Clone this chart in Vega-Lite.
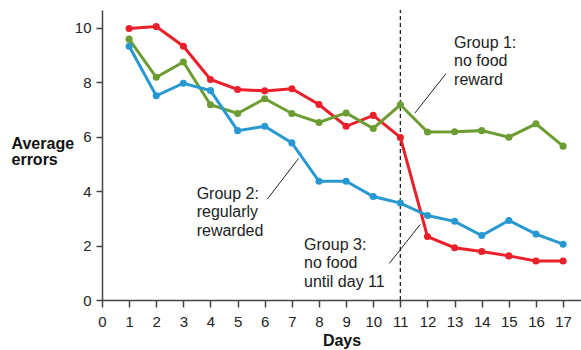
{
  "$schema": "https://vega.github.io/schema/vega-lite/v6.json",
  "width": 479,
  "height": 290,
  "autosize": {"type": "none"},
  "padding": {"left": 102, "top": 10, "right": 0, "bottom": 50},
  "background": "white",
  "config": {"view": {"stroke": null}, "font": "Liberation Sans"},
  "datasets": {
    "series": [
      {"day": 1, "group": "Group 3", "errors": 9.97},
      {"day": 2, "group": "Group 3", "errors": 10.04},
      {"day": 3, "group": "Group 3", "errors": 9.32},
      {"day": 4, "group": "Group 3", "errors": 8.1},
      {"day": 5, "group": "Group 3", "errors": 7.73},
      {"day": 6, "group": "Group 3", "errors": 7.68},
      {"day": 7, "group": "Group 3", "errors": 7.76},
      {"day": 8, "group": "Group 3", "errors": 7.18},
      {"day": 9, "group": "Group 3", "errors": 6.38},
      {"day": 10, "group": "Group 3", "errors": 6.78},
      {"day": 11, "group": "Group 3", "errors": 5.97},
      {"day": 12, "group": "Group 3", "errors": 2.33},
      {"day": 13, "group": "Group 3", "errors": 1.92},
      {"day": 14, "group": "Group 3", "errors": 1.78},
      {"day": 15, "group": "Group 3", "errors": 1.62},
      {"day": 16, "group": "Group 3", "errors": 1.43},
      {"day": 17, "group": "Group 3", "errors": 1.43},
      {"day": 1, "group": "Group 1", "errors": 9.58},
      {"day": 2, "group": "Group 1", "errors": 8.18},
      {"day": 3, "group": "Group 1", "errors": 8.74},
      {"day": 4, "group": "Group 1", "errors": 7.17},
      {"day": 5, "group": "Group 1", "errors": 6.85},
      {"day": 6, "group": "Group 1", "errors": 7.39},
      {"day": 7, "group": "Group 1", "errors": 6.85},
      {"day": 8, "group": "Group 1", "errors": 6.52},
      {"day": 9, "group": "Group 1", "errors": 6.87},
      {"day": 10, "group": "Group 1", "errors": 6.3},
      {"day": 11, "group": "Group 1", "errors": 7.17},
      {"day": 12, "group": "Group 1", "errors": 6.17},
      {"day": 13, "group": "Group 1", "errors": 6.18},
      {"day": 14, "group": "Group 1", "errors": 6.22},
      {"day": 15, "group": "Group 1", "errors": 5.98},
      {"day": 16, "group": "Group 1", "errors": 6.47},
      {"day": 17, "group": "Group 1", "errors": 5.65},
      {"day": 1, "group": "Group 2", "errors": 9.32},
      {"day": 2, "group": "Group 2", "errors": 7.5},
      {"day": 3, "group": "Group 2", "errors": 7.96},
      {"day": 4, "group": "Group 2", "errors": 7.69},
      {"day": 5, "group": "Group 2", "errors": 6.22},
      {"day": 6, "group": "Group 2", "errors": 6.38},
      {"day": 7, "group": "Group 2", "errors": 5.77},
      {"day": 8, "group": "Group 2", "errors": 4.36},
      {"day": 9, "group": "Group 2", "errors": 4.36},
      {"day": 10, "group": "Group 2", "errors": 3.8},
      {"day": 11, "group": "Group 2", "errors": 3.56},
      {"day": 12, "group": "Group 2", "errors": 3.1},
      {"day": 13, "group": "Group 2", "errors": 2.89},
      {"day": 14, "group": "Group 2", "errors": 2.37},
      {"day": 15, "group": "Group 2", "errors": 2.92},
      {"day": 16, "group": "Group 2", "errors": 2.42},
      {"day": 17, "group": "Group 2", "errors": 2.05}
    ],
    "divider": [{"day": 11, "errors": 0, "errors2": 10.65}],
    "connectors": [
      {"day": 11.54, "errors": 6.87, "day2": 12.68, "errors2": 8.31},
      {"day": 6.1, "errors": 3.71, "day2": 7.24, "errors2": 5.19},
      {"day": 10.59, "errors": 1.34, "day2": 11.73, "errors2": 2.77}
    ],
    "notes": [
      {"day": 12.98, "errors": 9.26, "label": "Group 1:\nno food\nreward"},
      {"day": 3.49, "errors": 3.72, "label": "Group 2:\nregularly\nrewarded"},
      {"day": 7.45, "errors": 1.85, "label": "Group 3:\nno food\nuntil day 11"}
    ]
  },
  "encoding": {
    "x": {
      "field": "day",
      "type": "quantitative",
      "scale": {"domain": [0, 17.66], "nice": false, "zero": false},
      "axis": {
        "title": "Days",
        "values": [0, 1, 2, 3, 4, 5, 6, 7, 8, 9, 10, 11, 12, 13, 14, 15, 16, 17],
        "labelOverlap": false,
        "grid": false,
        "tickSize": 7,
        "tickWidth": 1.5,
        "tickColor": "#444444",
        "domainColor": "#444444",
        "domainWidth": 1.5,
        "labelFontSize": 15,
        "labelColor": "#222222",
        "labelFlush": false,
        "labelBaseline": "alphabetic",
        "labelPadding": 19,
        "titleFontSize": 16,
        "titleFontWeight": "bold",
        "titleColor": "#111111",
        "titleBaseline": "alphabetic",
        "titleY": 45
      }
    },
    "y": {
      "field": "errors",
      "type": "quantitative",
      "scale": {"domain": [0, 10.65], "nice": false},
      "axis": {
        "title": ["Average", "errors"],
        "titleAngle": 0,
        "titleAlign": "left",
        "titleBaseline": "alphabetic",
        "titleX": -91,
        "titleY": 138,
        "titleLineHeight": 16,
        "titleFontSize": 16,
        "titleFontWeight": "bold",
        "titleColor": "#111111",
        "values": [0, 2, 4, 6, 8, 10],
        "labelOverlap": false,
        "grid": false,
        "tickSize": 6,
        "tickWidth": 1.5,
        "tickColor": "#444444",
        "domainColor": "#444444",
        "domainWidth": 1.5,
        "labelFontSize": 15,
        "labelColor": "#222222",
        "labelPadding": 5
      }
    }
  },
  "layer": [
    {
      "data": {"name": "divider"},
      "mark": {"type": "rule", "color": "#222222", "strokeWidth": 1.3, "strokeDash": [4, 3]},
      "encoding": {
        "y2": {"field": "errors2"}
      }
    },
    {
      "data": {"name": "series"},
      "mark": {"type": "line", "strokeWidth": 3, "point": {"filled": true, "size": 50, "opacity": 1}},
      "encoding": {
        "color": {
          "field": "group",
          "type": "nominal",
          "scale": {"domain": ["Group 2", "Group 1", "Group 3"], "range": ["#2899d0", "#6b9d33", "#e8202a"]},
          "legend": null
        }
      }
    },
    {
      "data": {"name": "connectors"},
      "mark": {"type": "rule", "color": "#222222", "strokeWidth": 1},
      "encoding": {
        "x2": {"field": "day2"},
        "y2": {"field": "errors2"}
      }
    },
    {
      "data": {"name": "notes"},
      "mark": {"type": "text", "align": "left", "baseline": "alphabetic", "fontSize": 16, "lineHeight": 18.5, "lineBreak": "\n", "color": "#222222"},
      "encoding": {
        "text": {"field": "label", "type": "nominal"}
      }
    }
  ]
}
